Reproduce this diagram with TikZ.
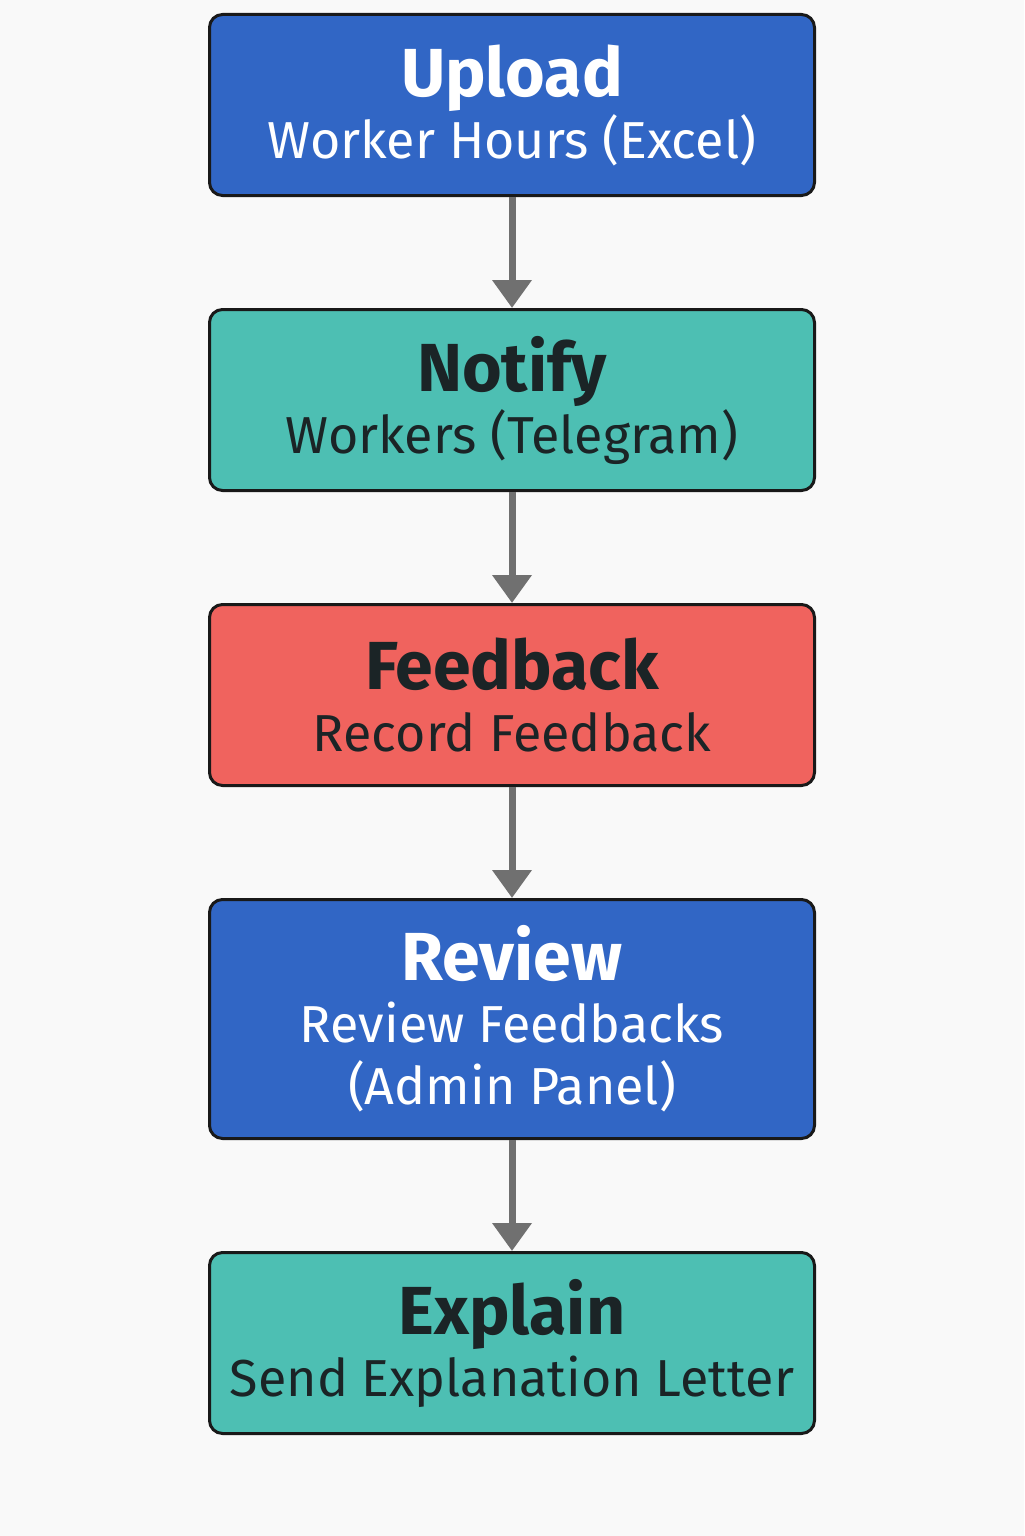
\documentclass[tikz,border=0pt]{standalone}
\usepackage{fontspec}
\setmainfont{Fira Sans}
\usetikzlibrary{positioning,arrows.meta}
\definecolor{boxblue}{HTML}{3166C5}
\definecolor{boxteal}{HTML}{4DBFB3}
\definecolor{boxred}{HTML}{F0635E}
\definecolor{inkdark}{HTML}{1B2426}
\definecolor{flowgray}{HTML}{707070}
\definecolor{paper}{HTML}{F9F9F9}
\newcommand{\ttl}[1]{{\fontsize{34}{33}\selectfont\bfseries #1}}
\begin{document}
\begin{tikzpicture}[
    stage/.style={draw=black!90,line width=1.5pt,rounded corners=6.5pt,
        minimum width=302.5pt,minimum height=90.5pt,align=center,
        font=\fontsize{26}{31}\selectfont,inner sep=0pt},
    flow/.style={flowgray,line width=3.5pt,-{Triangle[width=19pt,length=14pt]}},
    node distance=55.5pt
]
    \fill[paper] (0,0) rectangle (512pt,-768pt);
    \useasboundingbox (0,0) rectangle (512pt,-768pt);

    \node[stage,fill=boxblue,text=white] (upload) at (256pt,-52.5pt)
        {\ttl{Upload}\\Worker Hours (Excel)};
    \node[stage,fill=boxteal,text=inkdark,below=of upload] (notify)
        {\ttl{Notify}\\Workers (Telegram)};
    \node[stage,fill=boxred,text=inkdark,below=of notify] (feedback)
        {\ttl{Feedback}\\Record Feedback};
    \node[stage,fill=boxblue,text=white,minimum height=119.5pt,below=of feedback] (review)
        {\ttl{Review}\\Review Feedbacks\\(Admin Panel)};
    \node[stage,fill=boxteal,text=inkdark,below=of review] (explain)
        {\ttl{Explain}\\Send Explanation Letter};

    \foreach \a/\b in {upload/notify,notify/feedback,feedback/review,review/explain}{
        \draw[flow] (\a) -- (\b);
    }
\end{tikzpicture}
\end{document}
